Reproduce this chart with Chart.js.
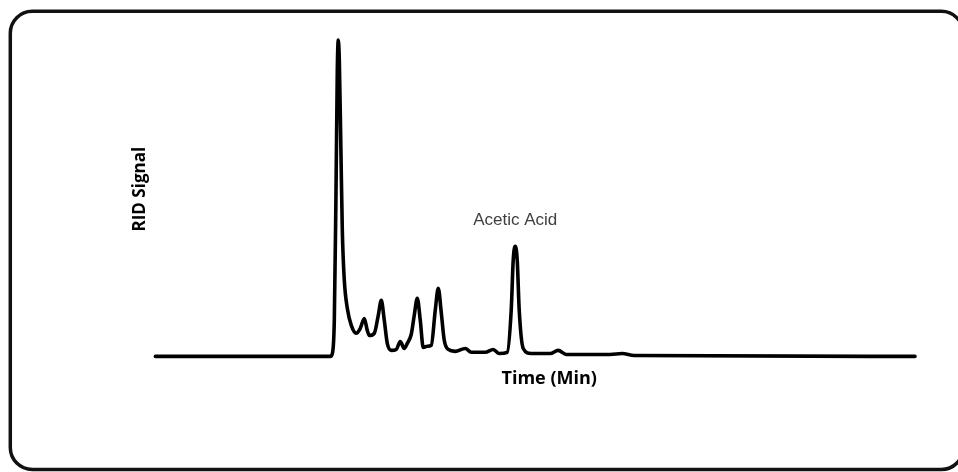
<!DOCTYPE html>
<html>
<head>
<meta charset="utf-8">
<script src="https://cdn.jsdelivr.net/npm/chart.js@4"></script>
<style>
  html, body { margin: 0; padding: 0; background: #fff; }
  #wrap { width: 958px; height: 472px; }
</style>
</head>
<body>
<div id="wrap"><canvas id="rid" width="958" height="472"></canvas></div>
<script>
// retention time (min) and detector response (arbitrary units)
const timeMin = [0, 8.75, 8.85, 8.95, 9.03, 9.1, 9.15, 9.2, 9.28, 9.35, 9.45, 9.6, 9.8, 10.05, 10.25,
  10.45, 10.6, 10.7, 10.95, 11.15, 11.3, 11.45, 11.6, 11.8, 12.05, 12.25, 12.45, 12.6, 12.8, 12.95,
  13.1, 13.25, 13.4, 13.6, 13.8, 14.0, 14.15, 14.3, 14.45, 14.65, 15.0, 15.5, 15.8, 16.5, 16.9,
  17.2, 17.6, 17.8, 17.9, 18.0, 18.1, 18.2, 18.4, 18.8, 19.75, 20.15, 20.55, 22.75, 23.35, 23.95, 38];
const ridSignal = [0, 0, 0.9, 11.4, 49.4, 90.5, 100, 93.7, 65.2, 39.9, 24.1, 15.2, 9.8, 7.3, 8.9,
  12, 8.2, 6.6, 7.3, 13, 17.7, 11.4, 4.1, 1.9, 2.2, 4.7, 2.5, 4.1, 7, 13,
  18.4, 11.4, 2.8, 3.2, 3.5, 14.6, 21.5, 13.9, 5.1, 2.2, 1.6, 2.5, 1.3, 1.3, 2.2,
  0.9, 1.3, 14.6, 30.4, 34.8, 30.4, 14.6, 2.5, 0.9, 0.9, 1.9, 0.6, 0.6, 0.9, 0.3, 0];

const peakLabel = "Acetic Acid";
const peakTime = 18.0;
const peakSignal = 34.8;

// rounded frame around the whole figure
const framePlugin = {
    id: "frame",
    beforeDraw(chart) {
        const ctx = chart.ctx;
        ctx.save();
        ctx.fillStyle = "#fff";
        ctx.fillRect(0, 0, chart.width, chart.height);
        ctx.strokeStyle = "#111";
        ctx.lineWidth = 3.5;
        ctx.beginPath();
        ctx.roundRect(10.3, 11.3, 953, 458.2, 22);
        ctx.stroke();
        ctx.restore();
    }
};

// label above the acetic acid peak
const peakLabelPlugin = {
    id: "peakLabel",
    afterDatasetsDraw(chart) {
        const ctx = chart.ctx;
        const x = chart.scales.x.getPixelForValue(peakTime);
        const y = chart.scales.y.getPixelForValue(peakSignal) - 26;
        ctx.save();
        ctx.font = "17px 'Liberation Sans', Arial, sans-serif";
        ctx.fillStyle = "#404040";
        ctx.textAlign = "center";
        ctx.textBaseline = "middle";
        ctx.fillText(peakLabel, x, y);
        ctx.restore();
    }
};

const ctx = document.getElementById("rid").getContext("2d");
new Chart(ctx, {
    type: "line",
    data: {
        datasets: [{
            data: timeMin.map((t, i) => ({ x: t, y: ridSignal[i] })),
            borderColor: "#000",
            borderWidth: 3.6,
            borderCapStyle: "round",
            borderJoinStyle: "round",
            pointRadius: 0,
            fill: false,
            cubicInterpolationMode: "monotone",
            clip: false
        }]
    },
    options: {
        responsive: false,
        animation: false,
        layout: { padding: { left: 130, right: 15, top: 22, bottom: 74 } },
        scales: {
            x: {
                type: "linear",
                min: 0,
                max: 39.4,
                grid: { display: false, drawTicks: false },
                border: { display: false },
                ticks: { display: false },
                title: {
                    display: true,
                    text: "Time (Min)",
                    color: "#000",
                    font: { family: "'Open Sans', sans-serif", size: 18, weight: "bold" },
                    padding: { top: 12, bottom: 8 }
                }
            },
            y: {
                min: 0,
                max: 105.7,
                grid: { display: false, drawTicks: false },
                border: { display: false },
                ticks: { display: false },
                title: {
                    display: true,
                    text: "RID Signal",
                    color: "#000",
                    font: { family: "'Open Sans', sans-serif", size: 17, weight: "bold" },
                    padding: { top: 0, bottom: 5 }
                }
            }
        },
        plugins: {
            legend: { display: false },
            tooltip: { enabled: false }
        }
    },
    plugins: [framePlugin, peakLabelPlugin]
});
</script>
</body>
</html>
